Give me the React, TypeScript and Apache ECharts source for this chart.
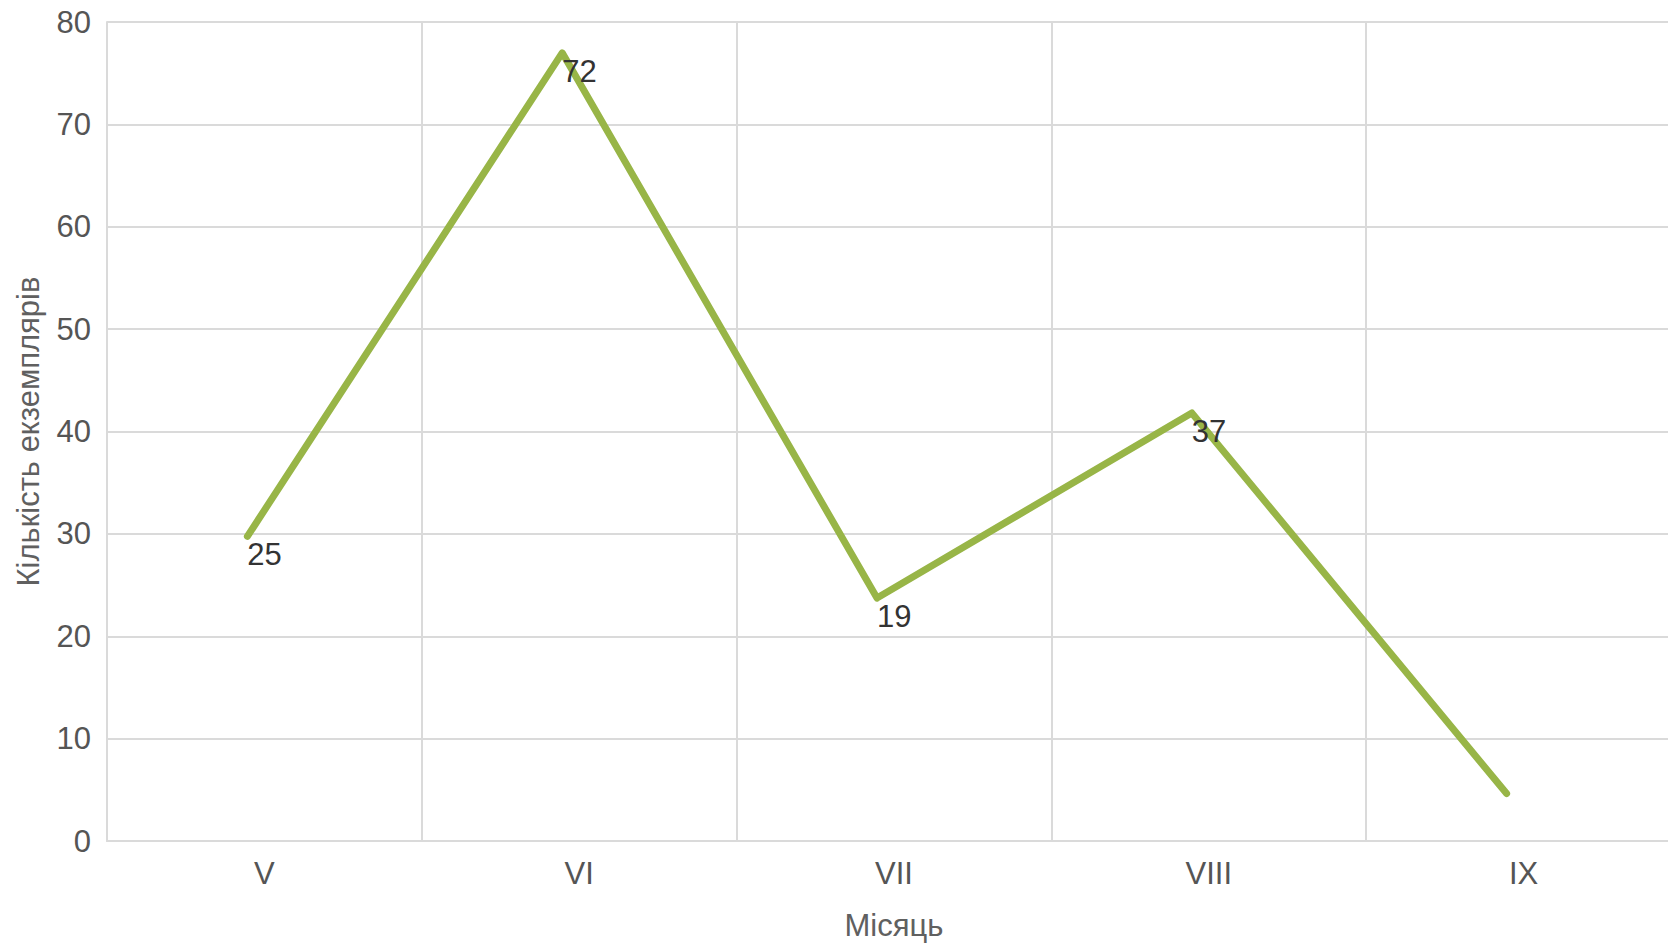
import React, { useEffect, useRef } from "react";
import * as echarts from "echarts";

const months = ["V", "VI", "VII", "VIII", "IX"];
const plotted = [30, 77, 24, 42, 5];
const labelTexts = ["25", "72", "19", "37", ""];
const yTicks = { min: 0, max: 80, interval: 10 };
const xTitle = "Місяць";
const yTitle = "Кількість екземплярів";

export default function App() {
  const ref = useRef<HTMLDivElement>(null);
  useEffect(() => {
    if (!ref.current) return;
    const chart = echarts.init(ref.current, undefined, { renderer: "svg" });
    const font = "'Liberation Sans', Arial, sans-serif";
    const gridColor = "#dadada";
    chart.setOption({
      animation: false,
      backgroundColor: "#ffffff",
      grid: [
        { left: 107, right: 0, top: 22, bottom: 101, containLabel: false },
        { left: 90, right: 17, top: 22, bottom: 101, containLabel: false },
      ],
      xAxis: [
        {
          type: "category",
          gridIndex: 0,
          data: months,
          boundaryGap: true,
          name: xTitle,
          nameLocation: "middle",
          nameGap: 69,
          nameTextStyle: { fontFamily: font, fontSize: 31, color: "#606060" },
          axisLine: { show: true, lineStyle: { color: gridColor, width: 2 } },
          axisTick: { show: false },
          axisLabel: { fontFamily: font, fontSize: 31, color: "#555", margin: 17 },
          splitLine: { show: true, lineStyle: { color: gridColor, width: 2 } },
        },
        {
          type: "category",
          gridIndex: 1,
          data: months,
          boundaryGap: true,
          show: false,
        },
      ],
      yAxis: [
        {
          type: "value",
          gridIndex: 0,
          min: yTicks.min,
          max: yTicks.max,
          interval: yTicks.interval,
          name: yTitle,
          nameLocation: "middle",
          nameGap: 63,
          nameRotate: 90,
          nameTextStyle: { fontFamily: font, fontSize: 31, color: "#606060" },
          axisLine: { show: true, lineStyle: { color: gridColor, width: 2 } },
          axisTick: { show: false },
          axisLabel: { fontFamily: font, fontSize: 31, color: "#555", margin: 16 },
          splitLine: { show: true, lineStyle: { color: gridColor, width: 2 } },
        },
        {
          type: "value",
          gridIndex: 1,
          min: yTicks.min,
          max: yTicks.max,
          interval: yTicks.interval,
          show: false,
        },
      ],
      series: [
        {
          type: "line",
          xAxisIndex: 1,
          yAxisIndex: 1,
          data: plotted,
          symbol: "circle",
          symbolSize: 0.1,
          showSymbol: true,
          itemStyle: { color: "#98b547" },
          lineStyle: { color: "#98b547", width: 7, cap: "round", join: "round" },
          label: {
            show: true,
            position: [0, 3],
            align: "left",
            verticalAlign: "top",
            fontFamily: font,
            fontSize: 31,
            color: "#333",
            formatter: (p: any) => labelTexts[p.dataIndex],
          },
          z: 5,
        },
      ],
    });
    return () => chart.dispose();
  }, []);
  return (
    <div
      ref={ref}
      style={{ position: "fixed", left: 0, top: 0, width: 1681, height: 946, overflow: "hidden" }}
    />
  );
}
